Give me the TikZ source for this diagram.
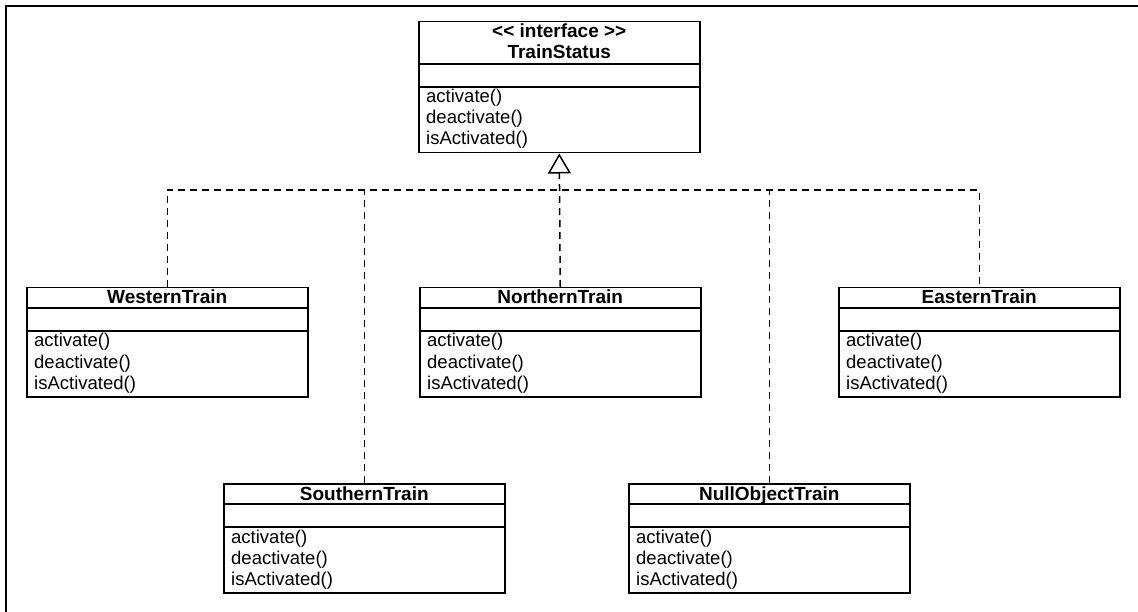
\documentclass[tikz,border=0pt]{standalone}
\usepackage{fontspec}
\setmainfont{Liberation Sans}
\newfontfamily\plainsans{Liberation Sans}
\usetikzlibrary{arrows.meta}
\tikzset{
  classframe/.style={draw=black, line width=1.5pt, inner sep=0pt, fill=white},
  classline/.style={draw=black, line width=1.5pt},
  titletext/.style={inner sep=0pt, font=\fontsize{19}{21}\selectfont\bfseries},
  optext/.style={inner sep=0pt, anchor=base west, font=\fontsize{18.5}{21}\selectfont},
  realize/.style={draw=black, line width=1.5pt, dash pattern=on 7pt off 5pt},
  frameline/.style={draw=black, line width=2.5pt},
}
% #1 name, #2 x left, #3 y top, #4 header height
\newcommand{\classbox}[4]{%
  \node[classframe, anchor=north west, minimum width=281pt, minimum height={#4pt+88pt}] (#1) at (#2,#3) {};
  \draw[classline] ([yshift=-#4pt]#1.north west) -- ([yshift=-#4pt]#1.north east);
  \draw[classline] ([yshift=-#4pt-23pt]#1.north west) -- ([yshift=-#4pt-23pt]#1.north east);
  \node[optext] (#1-a) at ([xshift=8pt, yshift=-#4pt-39pt]#1.north west) {activate()};
  \node[optext] (#1-d) at ([xshift=8pt, yshift=-#4pt-60pt]#1.north west) {deactivate()};
  \node[optext] (#1-i) at ([xshift=8pt, yshift=-#4pt-81pt]#1.north west) {isActivated()};
}
\begin{document}
\begin{tikzpicture}[x=1pt, y=-1pt]
\useasboundingbox (0,0) rectangle (1138,612);
\fill[white] (0,0) rectangle (1138,612);
\draw[frameline] (6,612) -- (6,6) -- (1138,6);

% interface
\classbox{iface}{418}{21}{43}
\node[titletext, anchor=base] (iface-st) at ([yshift=-17pt]iface.north) {\plainsans\bfseries << interface >>};
\node[titletext, anchor=base] (iface-t) at ([yshift=-38pt]iface.north) {TrainStatus};

% implementations
\classbox{west}{26}{287}{21}
\node[titletext, anchor=base] (west-t) at ([yshift=-17pt]west.north) {WesternTrain};
\classbox{north}{419}{287}{21}
\node[titletext, anchor=base] (north-t) at ([yshift=-17pt]north.north) {NorthernTrain};
\classbox{east}{838}{287}{21}
\node[titletext, anchor=base] (east-t) at ([yshift=-17pt]east.north) {EasternTrain};
\classbox{south}{223}{483}{21}
\node[titletext, anchor=base] (south-t) at ([yshift=-17pt]south.north) {SouthernTrain};
\classbox{null}{628}{483}{21}
\node[titletext, anchor=base] (null-t) at ([yshift=-17pt]null.north) {NullObjectTrain};

% realization connectors
\coordinate (bus) at (559,190);
\draw[realize] (west.north) |- (bus) -| (east.north);
\draw[realize] (south.north) -- (south.north |- bus);
\draw[realize] (null.north) -- (null.north |- bus);
\draw[realize, -{Triangle[open, length=20pt, width=23pt, line width=1.5pt, fill=white]}] (north.north) -- (iface.south);
\end{tikzpicture}
\end{document}
